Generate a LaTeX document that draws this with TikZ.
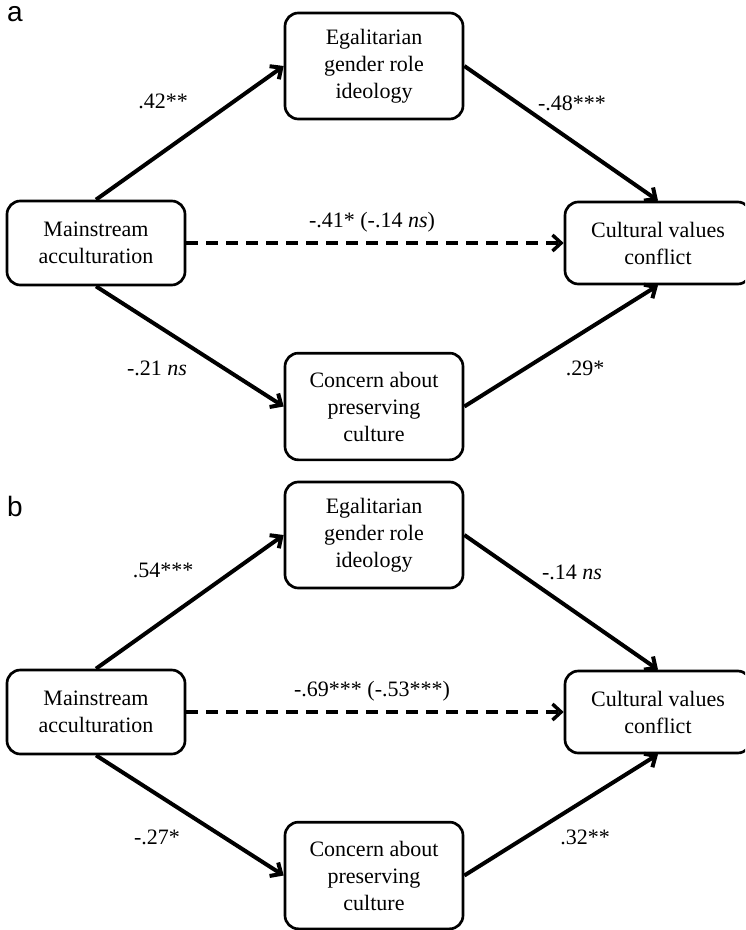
\documentclass[tikz,border=0pt]{standalone}
\usepackage{fontspec}
\setmainfont{Liberation Serif}
\newfontfamily\panelfont{Liberation Sans}
\usetikzlibrary{arrows.meta}

\begin{document}
\begin{tikzpicture}[x=0.75pt,y=-0.75pt,
  varbox/.style={draw,line width=2pt,rounded corners=10pt,align=center,
    minimum width=133.5pt,inner sep=2pt,font=\fontsize{16.5}{20.25}\selectfont},
  effect/.style={line width=3pt,-{Straight Barb[length=6.5pt,width=12pt]}},
  direct/.style={effect,line width=2.6pt,dash pattern=on 9pt off 6pt},
  coef/.style={font=\fontsize{16.5}{20}\selectfont},
  tag/.style={font=\panelfont\fontsize{21}{24}\selectfont}]
\useasboundingbox (0,0) rectangle (745,930);
\clip (0,0) rectangle (745,930);
% panel a
\begin{scope}
\node[tag] (taga) at (15,14) {a};
\node[varbox,minimum height=79.5pt] (ideoa) at (374,66) {Egalitarian\\gender role\\ideology};
\node[varbox,minimum height=63pt] (accua) at (96,243) {Mainstream\\acculturation};
\node[varbox,minimum height=61.5pt,minimum width=139.5pt] (confa) at (658,243) {Cultural values\\conflict};
\node[varbox,minimum height=80pt] (presa) at (374,406.5) {Concern about\\preserving\\culture};
\draw[effect] (accua.north) -- (ideoa.west);
\draw[effect] (ideoa.east) -- (confa.north);
\draw[effect] (accua.south) -- (presa.west);
\draw[effect] (presa.east) -- (confa.south);
\draw[direct] (accua.east) -- (confa.west);
\node[coef] (c1a) at (163,101) {.42**};
\node[coef] (c2a) at (572,103) {-.48***};
\node[coef] (c3a) at (157,368) {-.21 \textit{ns}};
\node[coef] (c4a) at (585,368) {.29*};
\node[coef] (c5a) at (372,222) {-.41* (-.14 \textit{ns})};
\end{scope}
% panel b
\begin{scope}[yshift=-351.75pt]
\node[tag] (tagb) at (15,37) {b};
\node[varbox,minimum height=79.5pt] (ideob) at (374,66) {Egalitarian\\gender role\\ideology};
\node[varbox,minimum height=63pt] (accub) at (96,243) {Mainstream\\acculturation};
\node[varbox,minimum height=61.5pt,minimum width=139.5pt] (confb) at (658,243) {Cultural values\\conflict};
\node[varbox,minimum height=80pt] (presb) at (374,406.5) {Concern about\\preserving\\culture};
\draw[effect] (accub.north) -- (ideob.west);
\draw[effect] (ideob.east) -- (confb.north);
\draw[effect] (accub.south) -- (presb.west);
\draw[effect] (presb.east) -- (confb.south);
\draw[direct] (accub.east) -- (confb.west);
\node[coef] (c1b) at (163,101) {.54***};
\node[coef] (c2b) at (572,103) {-.14 \textit{ns}};
\node[coef] (c3b) at (157,368) {-.27*};
\node[coef] (c4b) at (585,368) {.32**};
\node[coef] (c5b) at (372,222) {-.69*** (-.53***)};
\end{scope}
\end{tikzpicture}
\end{document}
